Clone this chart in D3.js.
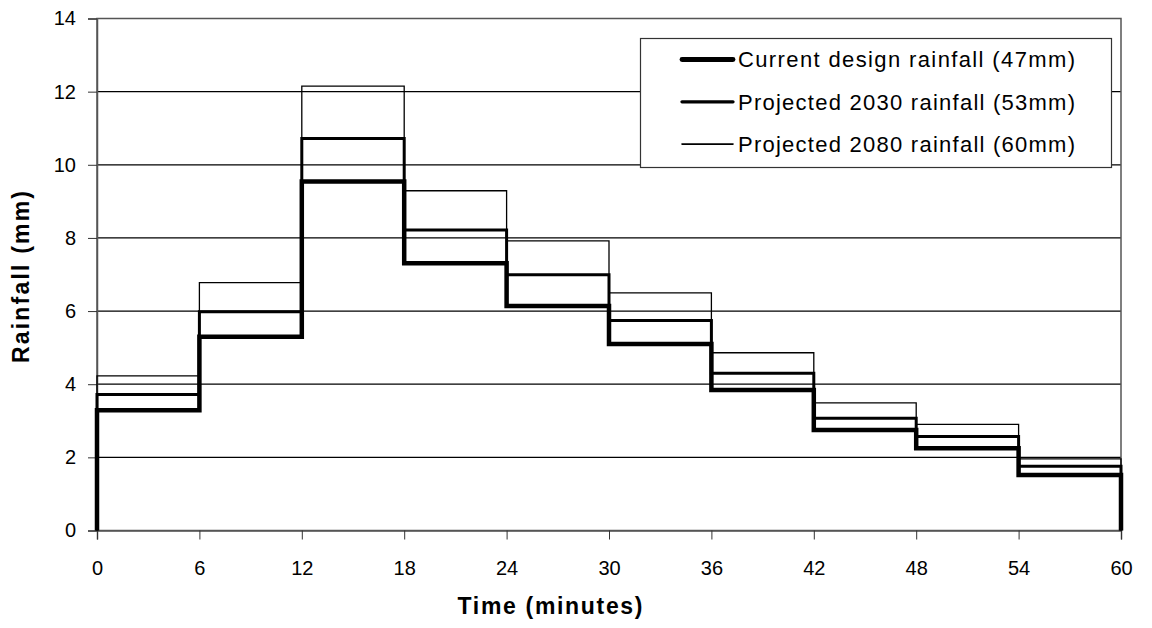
<!DOCTYPE html>
<html><head><meta charset="utf-8">
<script src="https://cdn.jsdelivr.net/npm/d3@7"></script>
<style>body{margin:0;background:#fff}svg{display:block}text{font-family:"Liberation Sans",Arial,sans-serif}</style>
</head><body><svg id="c" width="1152" height="628"></svg>
<script>
const timeStarts = [0, 6, 12, 18, 24, 30, 36, 42, 48, 54];
const xTicks = [0, 6, 12, 18, 24, 30, 36, 42, 48, 54, 60];
const yTicks = [0, 2, 4, 6, 8, 10, 12, 14];
const seriesNames = ["Current design rainfall (47mm)", "Projected 2030 rainfall (53mm)", "Projected 2080 rainfall (60mm)"];
const current = [3.29, 5.30, 9.54, 7.31, 6.14, 5.10, 3.84, 2.75, 2.25, 1.52];
const p2030 = [3.72, 5.98, 10.72, 8.22, 6.99, 5.74, 4.30, 3.07, 2.57, 1.76];
const p2080 = [4.23, 6.78, 12.15, 9.29, 7.92, 6.50, 4.86, 3.49, 2.90, 1.96];
const widths = [4.5, 3, 1.3];

const svg = d3.select("#c");
const L = 97, R = 1121, T = 18.5, B = 530.5;
const x = d3.scaleLinear().domain([0, 60]).range([L, R]);
const y = d3.scaleLinear().domain([0, 14]).range([B, T]);

// gridlines
svg.append("g").selectAll("line").data(yTicks.filter(d => d > 0 && d < 14)).join("line")
  .attr("x1", L).attr("x2", R).attr("y1", d => y(d)).attr("y2", d => y(d))
  .attr("stroke", "#000").attr("stroke-width", 1.2);

// plot border
svg.append("rect").attr("x", L).attr("y", T).attr("width", R - L).attr("height", B - T)
  .attr("fill", "none").attr("stroke", "#555").attr("stroke-width", 1.5);

// axes
const ya = svg.append("g").attr("transform", `translate(${L},0)`)
  .call(d3.axisLeft(y).tickValues(yTicks).tickSize(9).tickPadding(12).tickFormat(d3.format("d")));
const xa = svg.append("g").attr("transform", `translate(0,${B})`)
  .call(d3.axisBottom(x).tickValues(xTicks).tickSize(9).tickPadding(21).tickFormat(d3.format("d")));
[ya, xa].forEach(a => {
  a.attr("font-size", null).attr("font-family", null);
  a.select(".domain").attr("stroke", "#555").attr("stroke-width", 1.5);
  a.selectAll(".tick line").attr("stroke", "#333");
  a.selectAll(".tick text").style("font-size", "20px").attr("fill", "#000")
    .style("font-family", '"Liberation Sans",Arial,sans-serif');
});

// step lines
function pts(vals) {
  const p = [{t: 0, v: 0}];
  vals.forEach((v, i) => p.push({t: timeStarts[i], v}));
  p.push({t: 60, v: vals[vals.length - 1]});
  p.push({t: 60, v: 0});
  return p;
}
const line = d3.line().x(d => x(d.t)).y(d => y(d.v)).curve(d3.curveStepAfter);
const all = [current, p2030, p2080];
for (let i = 2; i >= 0; i--) {
  svg.append("path").attr("d", line(pts(all[i]))).attr("fill", "none")
    .attr("stroke", "#000").attr("stroke-width", widths[i]).attr("stroke-linejoin", "miter");
}

// legend
const lg = svg.append("g");
lg.append("rect").attr("x", 640.5).attr("y", 38.5).attr("width", 471).attr("height", 129)
  .attr("fill", "#fff").attr("stroke", "#333").attr("stroke-width", 1.2);
seriesNames.forEach((n, i) => {
  const yy = 59.5 + i * 42.3;
  lg.append("line").attr("x1", 682).attr("x2", 733).attr("y1", yy).attr("y2", yy)
    .attr("stroke", "#000").attr("stroke-width", widths[i] + 0.3).attr("stroke-linecap", "round");
  lg.append("text").attr("x", 738).attr("y", yy).attr("dy", "0.36em")
    .style("font-size", "22px").attr("textLength", 337).attr("lengthAdjust", "spacing").text(n);
});

// axis titles
svg.append("text").attr("x", 550).attr("y", 614).attr("text-anchor", "middle")
  .style("font-size", "23px").attr("font-weight", "bold")
  .attr("textLength", 185).attr("lengthAdjust", "spacing").text("Time (minutes)");
svg.append("text").attr("transform", "translate(29,277) rotate(-90)").attr("text-anchor", "middle")
  .style("font-size", "23px").attr("font-weight", "bold")
  .attr("textLength", 172).attr("lengthAdjust", "spacing").text("Rainfall (mm)");
</script></body></html>
